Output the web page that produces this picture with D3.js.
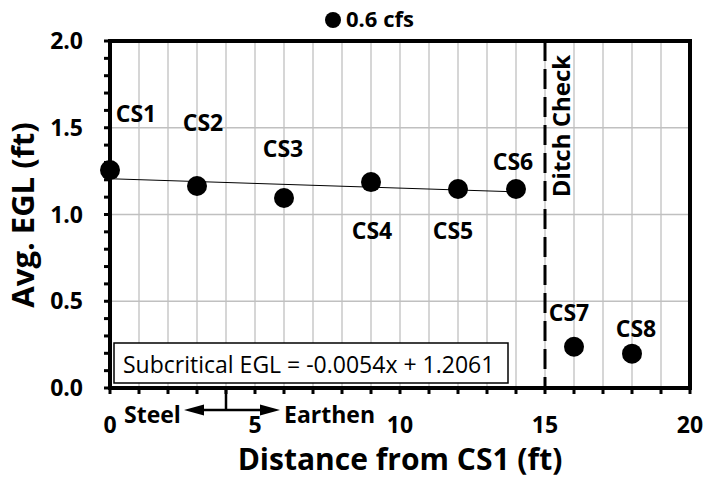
<!DOCTYPE html>
<html>
<head>
<meta charset="utf-8">
<script src="https://cdn.jsdelivr.net/npm/d3@7"></script>
<style>
  body { margin: 0; background: #fff; }
  svg { font-family: "Open Sans", Lato, sans-serif; }
</style>
</head>
<body>
<svg id="chart" width="705" height="479"></svg>
<script>
// section names and measured avg. EGL at 0.6 cfs
const sections = ["CS1", "CS2", "CS3", "CS4", "CS5", "CS6", "CS7", "CS8"];
const distances = [0, 3, 6, 9, 12, 14, 16, 18];
const egl = [1.256, 1.164, 1.095, 1.187, 1.147, 1.147, 0.238, 0.198];
const xTicks = [0, 5, 10, 15, 20];
const yTicks = [0.0, 0.5, 1.0, 1.5, 2.0];
const fitSlope = -0.0054;
const fitIntercept = 1.2061;
const fitRange = [0, 14];
const ditchCheckAt = 15;
const materialChangeAt = 4;

const svg = d3.select("#chart");
const plotLeft = 110, plotRight = 690, plotTop = 41, plotBottom = 388;

const x = d3.scaleLinear().domain([0, 20]).range([plotLeft, plotRight]);
const y = d3.scaleLinear().domain([0, 2]).range([plotBottom, plotTop]);

// gridlines
const grid = svg.append("g").attr("stroke", "#c0c0c0").attr("stroke-width", 1.3);
grid.selectAll("line.v").data(d3.range(1, 20)).enter().append("line")
    .attr("x1", d => x(d)).attr("x2", d => x(d)).attr("y1", plotTop).attr("y2", plotBottom);
grid.selectAll("line.h").data([0.5, 1.0, 1.5]).enter().append("line")
    .attr("x1", plotLeft).attr("x2", plotRight).attr("y1", d => y(d)).attr("y2", d => y(d));

// minor ticks
const ticks = svg.append("g").attr("stroke", "#000").attr("stroke-width", 3);
ticks.selectAll("line.xt").data(d3.range(0, 21)).enter().append("line")
    .attr("x1", d => x(d)).attr("x2", d => x(d)).attr("y1", plotBottom).attr("y2", plotBottom + 6);
ticks.selectAll("line.yt").data(d3.range(0, 21).map(i => i / 10)).enter().append("line")
    .attr("y1", d => y(d)).attr("y2", d => y(d)).attr("x1", plotLeft).attr("x2", plotLeft - 6);

// frame
svg.append("rect").attr("x", plotLeft).attr("y", plotTop)
    .attr("width", plotRight - plotLeft).attr("height", plotBottom - plotTop)
    .attr("fill", "none").attr("stroke", "#000").attr("stroke-width", 4);

// tick labels
svg.append("g").selectAll("text").data(xTicks).enter().append("text")
    .attr("x", d => x(d)).attr("y", 433).attr("text-anchor", "middle")
    .attr("font-size", 23).attr("font-weight", "bold").text(d => d);
svg.append("g").selectAll("text").data(yTicks).enter().append("text")
    .attr("x", 83).attr("y", d => y(d) + 8).attr("text-anchor", "end")
    .attr("font-size", 23).attr("font-weight", "bold").text(d => d.toFixed(1));

// axis titles
svg.append("text").attr("x", 400).attr("y", 470).attr("text-anchor", "middle")
    .attr("font-size", 30).attr("font-weight", "bold").text("Distance from CS1 (ft)");
svg.append("text").attr("transform", "translate(34,215) rotate(-90)").attr("text-anchor", "middle")
    .attr("font-size", 31).attr("font-weight", "bold").text("Avg. EGL (ft)");

// ditch check
svg.append("line").attr("x1", x(ditchCheckAt)).attr("x2", x(ditchCheckAt))
    .attr("y1", plotTop).attr("y2", plotBottom)
    .attr("stroke", "#000").attr("stroke-width", 3).attr("stroke-dasharray", "20,8");
svg.append("text").attr("transform", `translate(${x(ditchCheckAt) + 25},126) rotate(-90)`)
    .attr("text-anchor", "middle").attr("font-size", 24).attr("font-weight", "bold").text("Ditch Check");

// fit line
svg.append("line")
    .attr("x1", x(fitRange[0])).attr("y1", y(fitIntercept + fitSlope * fitRange[0]))
    .attr("x2", x(fitRange[1])).attr("y2", y(fitIntercept + fitSlope * fitRange[1]))
    .attr("stroke", "#000").attr("stroke-width", 1);

// points
const pts = sections.map((s, i) => ({name: s, x: distances[i], y: egl[i]}));
svg.append("g").selectAll("circle").data(pts).enter().append("circle")
    .attr("cx", d => x(d.x)).attr("cy", d => y(d.y)).attr("r", 10).attr("fill", "#000");

// point labels: offset of label centre / baseline from its point
const labelOffsets = {
    CS1: [26, -48], CS2: [6, -55], CS3: [-1, -41], CS4: [1, 57], CS5: [-5, 50], CS6: [-3, -19],
    CS7: [-5, -26], CS8: [4, -17]
};
svg.append("g").selectAll("text").data(pts).enter().append("text")
    .attr("x", d => x(d.x) + labelOffsets[d.name][0])
    .attr("y", d => y(d.y) + labelOffsets[d.name][1])
    .attr("text-anchor", "middle").attr("font-size", 23).attr("font-weight", "bold").text(d => d.name);

// equation box
svg.append("rect").attr("x", 114).attr("y", 343).attr("width", 394).attr("height", 40)
    .attr("fill", "#fff").attr("stroke", "#000").attr("stroke-width", 1.5);
svg.append("text").attr("x", 123).attr("y", 373).attr("font-size", 23)
    .text(`Subcritical EGL = ${fitSlope}x + ${fitIntercept}`);

// steel / earthen annotation
const mx = x(materialChangeAt);
const ann = svg.append("g").attr("stroke", "#000").attr("stroke-width", 2.5);
ann.append("line").attr("x1", mx).attr("x2", mx).attr("y1", plotBottom).attr("y2", 410);
ann.append("line").attr("x1", 196).attr("x2", 268).attr("y1", 410).attr("y2", 410);
svg.append("path").attr("d", "M184,410 L204,404.5 L204,415.5 Z").attr("fill", "#000");
svg.append("path").attr("d", "M280,410 L260,404.5 L260,415.5 Z").attr("fill", "#000");
svg.append("text").attr("x", 124).attr("y", 423).attr("font-size", 23).attr("font-weight", "bold").text("Steel");
svg.append("text").attr("x", 284).attr("y", 423).attr("font-size", 23).attr("font-weight", "bold").text("Earthen");

// legend
svg.append("circle").attr("cx", 333).attr("cy", 20).attr("r", 8).attr("fill", "#000");
svg.append("text").attr("x", 346).attr("y", 27).attr("font-size", 22).attr("font-weight", "bold").text("0.6 cfs");
</script>
</body>
</html>
